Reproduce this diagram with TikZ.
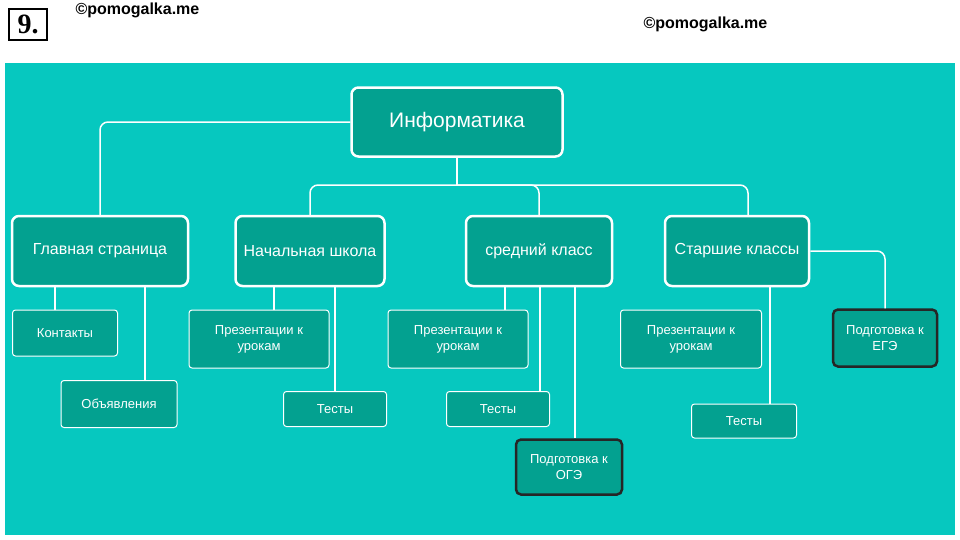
\documentclass[tikz,border=0pt]{standalone}
\usepackage{fontspec}
\setmainfont{Liberation Sans}
\newfontfamily\numfont{Liberation Serif}
\usepackage{tikz}
\definecolor{Sea}{HTML}{06C8BF}
\definecolor{Leaf}{HTML}{03A190}
\tikzset{
  topic/.style={draw=white,line width=2.5pt,rounded corners=7pt,fill=Leaf,text=white,font=\fontsize{16}{18}\selectfont,inner sep=0pt},
  item/.style={draw=white,line width=1pt,rounded corners=3pt,fill=Leaf,text=white,font=\fontsize{13}{16}\selectfont,align=center,inner sep=0pt},
  exam/.style={item,draw=black!85,line width=2.5pt,rounded corners=5pt},
  link/.style={draw=white,line width=1.5pt,rounded corners=8pt}
}
\begin{document}
\begin{tikzpicture}[x=1pt,y=-1pt]
\useasboundingbox (0,0) rectangle (960,539);
% header
\fill[white] (0,0) rectangle (960,539);
\node[draw,line width=2pt,minimum width=38,minimum height=31,inner sep=0pt,font=\numfont\fontsize{28}{28}\selectfont\bfseries] (num) at (28,24) {9.};
\node[anchor=west,font=\fontsize{16}{16}\selectfont\bfseries] (mark1) at (72,10) {©pomogalka.me};
\node[anchor=west,font=\fontsize{16}{16}\selectfont\bfseries] (mark2) at (640,24) {©pomogalka.me};
% background
\fill[Sea] (5,63) rectangle (955,535);
% main topic
\node[topic,minimum width=211,minimum height=69,font=\fontsize{21}{23}\selectfont] (inf) at (457,122) {Информатика};
% sections
\node[topic,minimum width=176,minimum height=70] (main) at (100,251) {Главная страница};
\node[topic,minimum width=149,minimum height=70] (prim) at (310,251) {Начальная школа};
\node[topic,minimum width=146,minimum height=70] (mid) at (539,251) {средний класс};
\node[topic,minimum width=144,minimum height=70] (sen) at (737,251) {Старшие классы};
% items
\node[item,minimum width=105,minimum height=46] (cont) at (65,333) {Контакты};
\node[item,minimum width=116,minimum height=47] (news) at (119,404) {Объявления};
\node[item,minimum width=140,minimum height=58] (pres1) at (259,339) {Презентации к\\урокам};
\node[item,minimum width=103,minimum height=35] (test1) at (335,409) {Тесты};
\node[item,minimum width=140,minimum height=58] (pres2) at (458,339) {Презентации к\\урокам};
\node[item,minimum width=103,minimum height=35] (test2) at (498,409) {Тесты};
\node[exam,minimum width=106,minimum height=55] (oge) at (569,467) {Подготовка к\\ОГЭ};
\node[item,minimum width=141,minimum height=58] (pres3) at (691,339) {Презентации к\\урокам};
\node[item,minimum width=105,minimum height=34] (test3) at (744,421) {Тесты};
\node[exam,minimum width=104,minimum height=57] (ege) at (885,338) {Подготовка к\\ЕГЭ};
% connectors
\coordinate (fork) at (457,185);
\draw[link] (inf.west) -| (main.north);
\draw[link] (inf.south) -- (fork);
\draw[link] (fork) -| (prim.north);
\draw[link] (fork) -| (mid.north);
\draw[link] (fork) -| (748,216);
\draw[link,rounded corners=0pt] (55,286) -- (cont.north -| 55,0);
\draw[link,rounded corners=0pt] (145,286) -- (news.north -| 145,0);
\draw[link,rounded corners=0pt] (274,286) -- (pres1.north -| 274,0);
\draw[link,rounded corners=0pt] (335,286) -- (test1.north);
\draw[link,rounded corners=0pt] (505,286) -- (pres2.north -| 505,0);
\draw[link,rounded corners=0pt] (540,286) -- (test2.north -| 540,0);
\draw[link,rounded corners=0pt] (575,286) -- (oge.north -| 575,0);
\draw[link,rounded corners=0pt] (770,286) -- (test3.north -| 770,0);
\draw[link] (sen.east) -| (ege.north);
\end{tikzpicture}
\end{document}
